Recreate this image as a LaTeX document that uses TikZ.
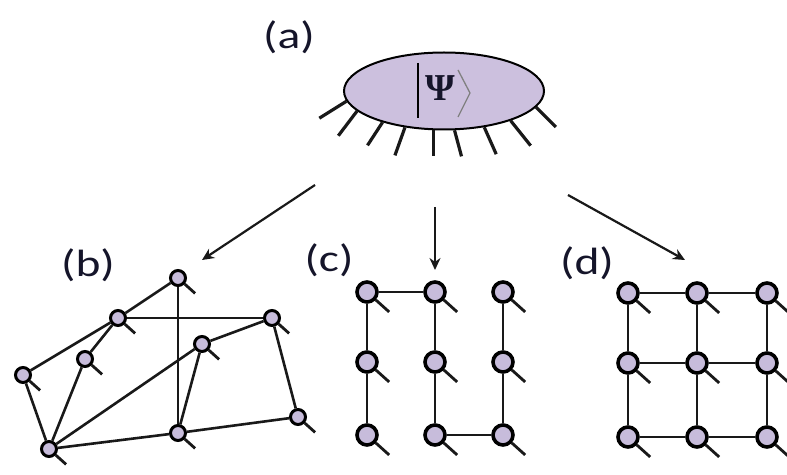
\documentclass[tikz,border=0pt]{standalone}
\usepackage{fontspec}
\setmainfont{Carlito}
\newfontfamily\psifont{Liberation Serif}
\usetikzlibrary{arrows.meta,shapes.geometric}
\definecolor{lav}{HTML}{C7BCDB}
\definecolor{lavE}{HTML}{CCC0DE}
\definecolor{lbl}{HTML}{15152A}
\begin{document}
\begin{tikzpicture}[x=1pt,y=1pt,
  site/.style={circle,draw=black,line width=3pt,fill=lav,inner sep=0pt,minimum size=15pt},
  bigsite/.style={site,minimum size=20pt,line width=3.6pt},
  bond/.style={line width=2.6pt,black!90},
  leg/.style={line width=2.8pt,black!90},
  lab/.style={font=\fontsize{38}{40}\selectfont,text=lbl,inner sep=0pt},
  arr/.style={line width=2.2pt,black!90,-{Stealth[length=12pt,width=11pt]}}]
\useasboundingbox (0,0) rectangle (787,474);

% (a) state
\node[ellipse,draw=black,line width=2pt,fill=lavE,minimum width=200pt,minimum height=77pt,inner sep=0pt] (psi) at (444,383) {};
\node[font=\psifont\bfseries\fontsize{38}{38}\selectfont,text=lbl,inner sep=0pt] (Psi) at (440,386) {Ψ};
\draw[line width=1.8pt] (418,411) -- (418,356);
\draw[line width=1.3pt,gray] (458,404) -- (470,381) -- (458,357);
\foreach \a/\d/\l in {186.7/212/32, 193.4/232.8/31, 207/236.9/27.5, 223.6/250.3/29.7, 255/270/26, 285/285/27, 318.4/294/29.5, 336/308.7/32, 350/315/28}
  \draw[line width=3.2pt,black!90] (psi.\a) -- ++(\d:\l);

% labels
\node[lab] (la) at (289,437) {\scalebox{1.25}[1]{(a)}};
\node[lab] (lb) at (88,209) {\scalebox{1.25}[1]{(b)}};
\node[lab] (lc) at (329,214) {\scalebox{1.25}[1]{(c)}};
\node[lab] (ld) at (587,211) {\scalebox{1.25}[1]{(d)}};

% arrows
\coordinate (sb) at (315,289); \coordinate (tb) at (202,214);
\coordinate (sc) at (435,267); \coordinate (tc) at (435,204);
\coordinate (sd) at (568,279); \coordinate (td) at (685,214);
\draw[arr] (sb) -- (tb);
\draw[arr] (sc) -- (tc);
\draw[arr] (sd) -- (td);

% (b) random graph
\node[site] (b1) at (178,196) {};
\node[site] (b2) at (118,156) {};
\node[site] (b3) at (272,156) {};
\node[site] (b4) at (202,130) {};
\node[site] (b5) at (85,115) {};
\node[site] (b6) at (23,99) {};
\node[site] (b7) at (298,57) {};
\node[site] (b8) at (178,41) {};
\node[site] (b9) at (49,25) {};
\foreach \u/\v in {b1/b2, b2/b6, b2/b3, b2/b5, b1/b8, b3/b4, b4/b9, b4/b8, b3/b7, b7/b8, b8/b9, b5/b9, b6/b9}
  \draw[bond] (\u) -- (\v);
\foreach \n in {b1,b2,b3,b4,b5,b6,b7,b8,b9}
  \draw[leg] (\n.-42) -- ++(-42:14);

% (c) snake chain
\foreach \i/\x in {1/367,2/435,3/503}
  \foreach \j/\y in {1/182,2/112,3/39}
    \node[bigsite] (c\i\j) at (\x,\y) {};
\foreach \u/\v in {c11/c21, c11/c12, c12/c13, c21/c22, c22/c23, c23/c33, c31/c32, c32/c33}
  \draw[bond] (\u) -- (\v);
\foreach \i in {1,2,3}
  \foreach \j in {1,2,3}
    \draw[leg] (c\i\j.-42) -- ++(-42:18);

% (d) square lattice
\foreach \i/\x in {1/628,2/697,3/767}
  \foreach \j/\y in {1/181,2/111,3/37}
    \node[bigsite] (d\i\j) at (\x,\y) {};
\foreach \u/\v in {d11/d21, d21/d31, d12/d22, d22/d32, d13/d23, d23/d33, d11/d12, d12/d13, d21/d22, d22/d23, d31/d32, d32/d33}
  \draw[bond] (\u) -- (\v);
\foreach \i in {1,2,3}
  \foreach \j in {1,2,3}
    \draw[leg] (d\i\j.-42) -- ++(-42:18);
\end{tikzpicture}
\end{document}
